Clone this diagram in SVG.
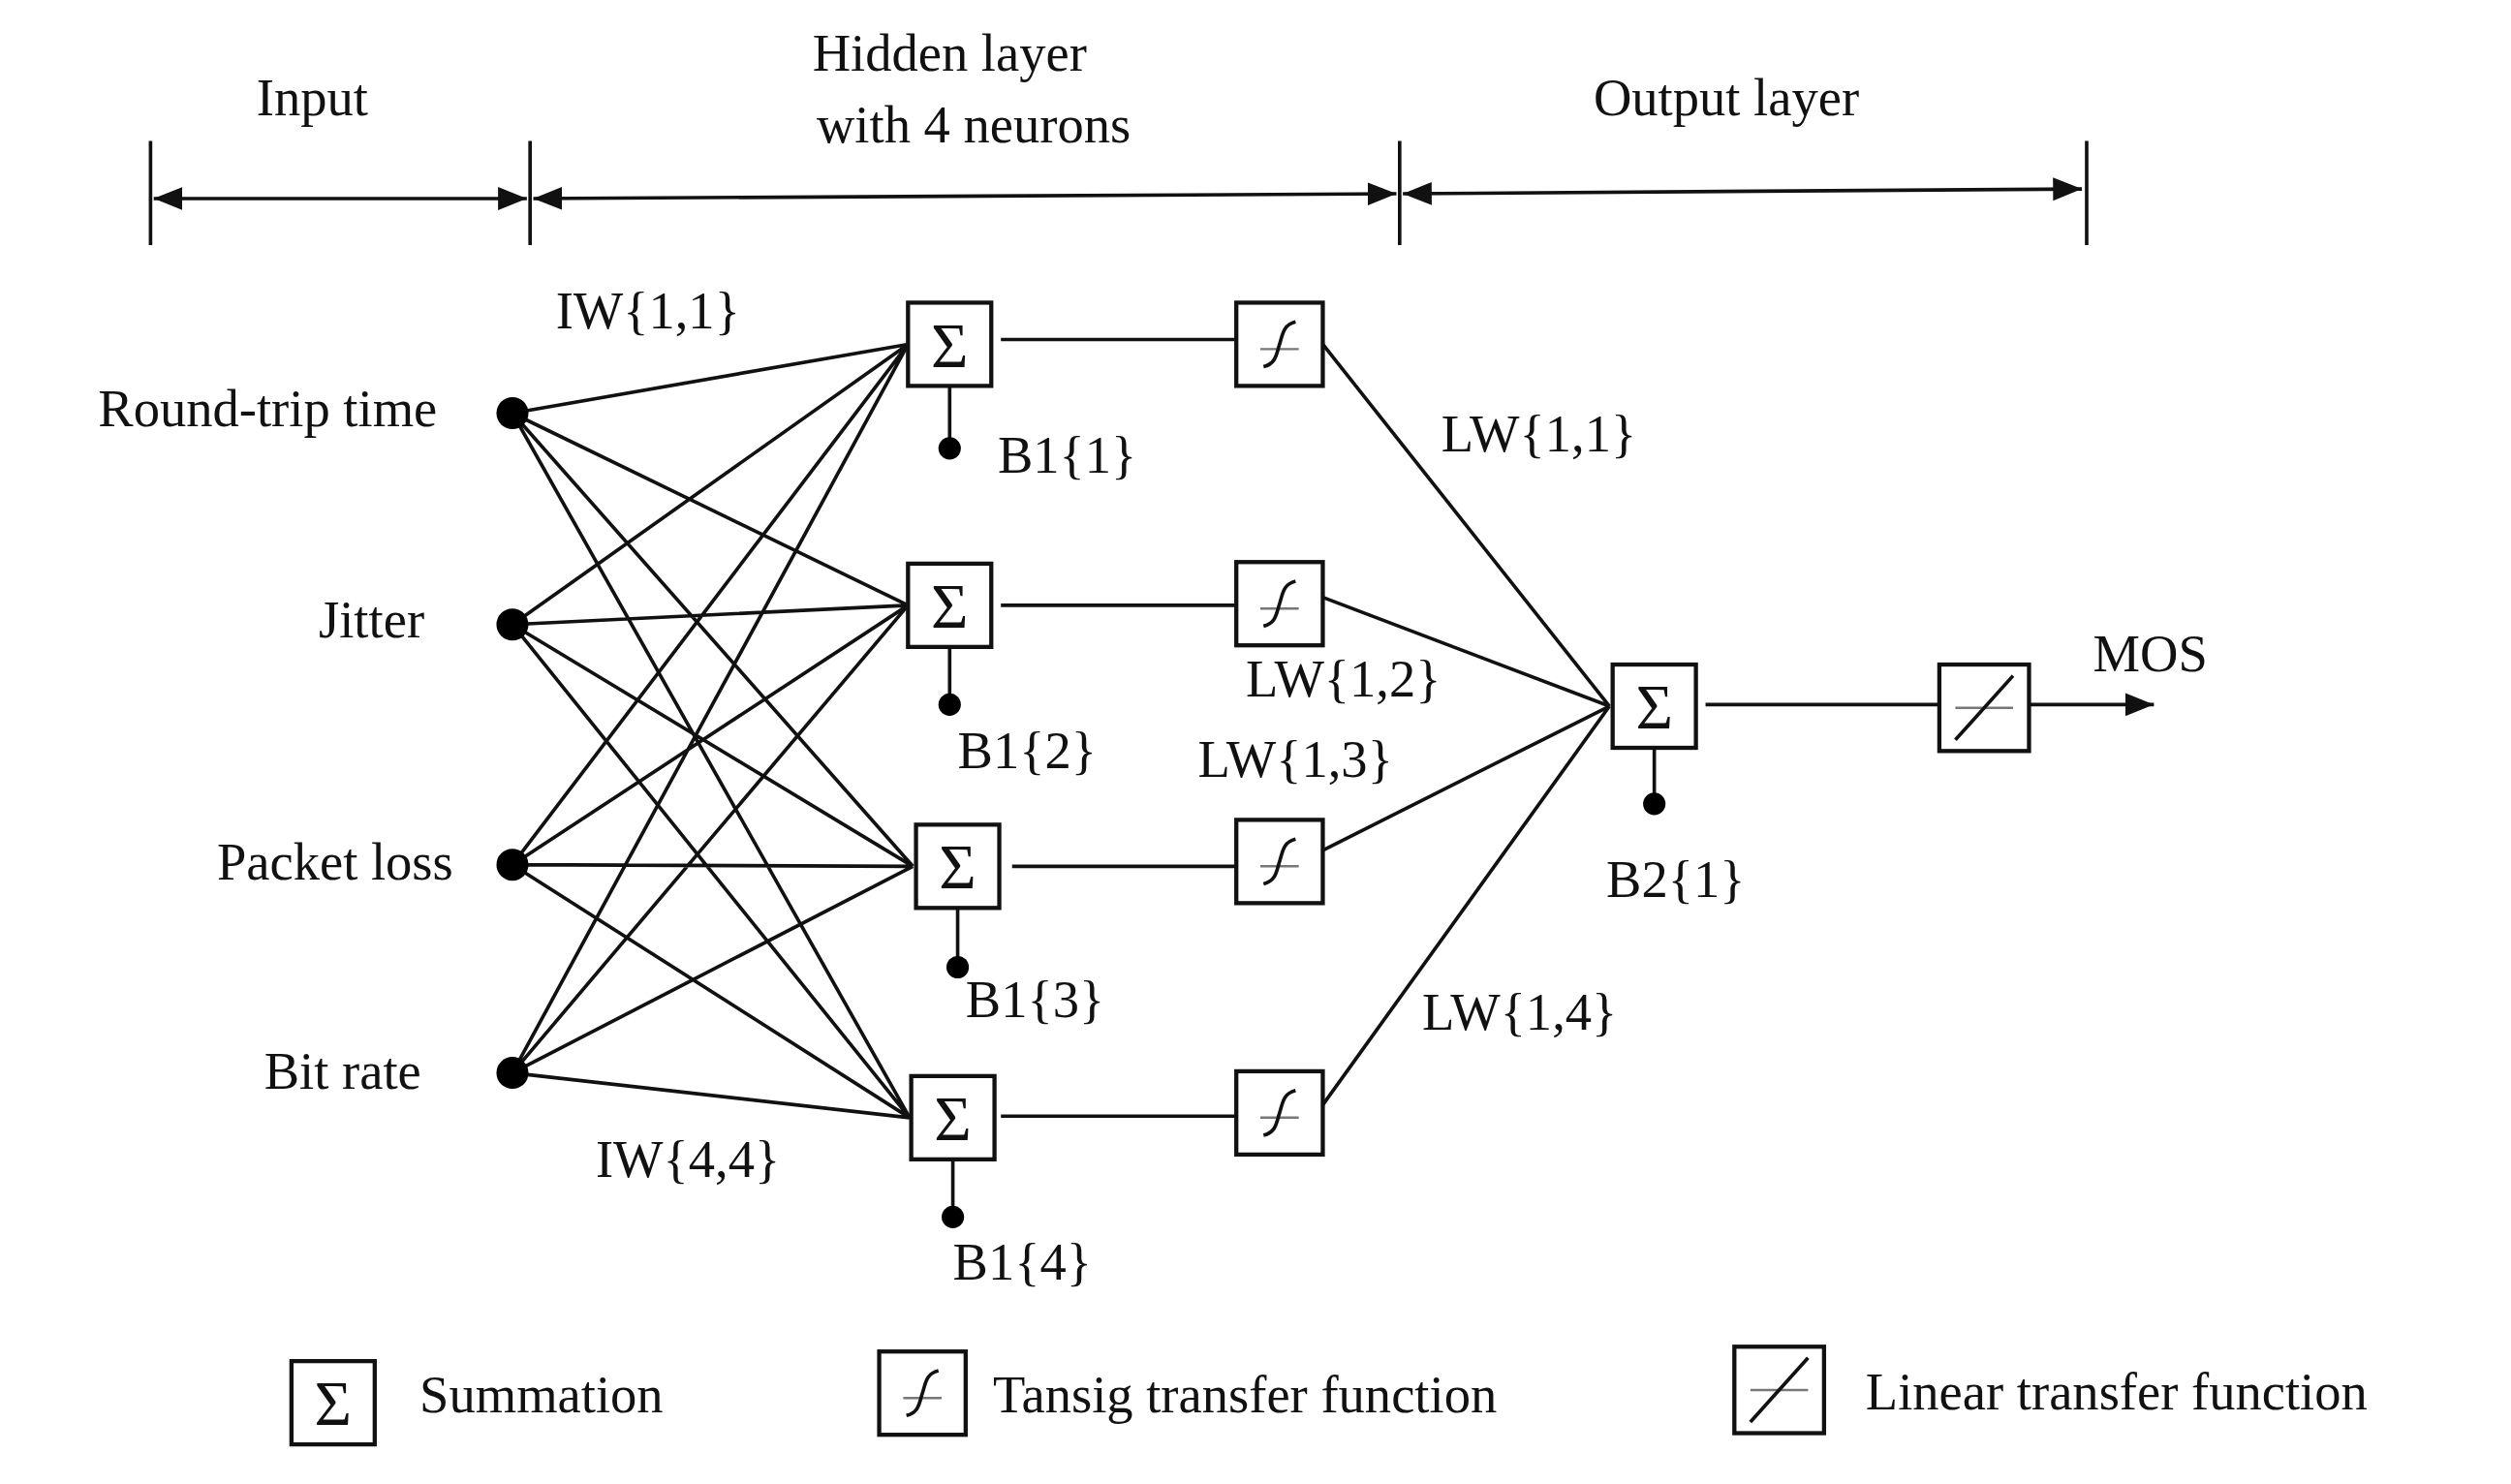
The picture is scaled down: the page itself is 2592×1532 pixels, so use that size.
<svg xmlns="http://www.w3.org/2000/svg" width="2592" height="1532" viewBox="0 0 2592 1532">
<style>
text{font-family:"Liberation Serif","Times New Roman",serif;font-size:33px;fill:#111}
.ln{stroke:#111;stroke-width:2.2;fill:none}
.bx{stroke:#111;stroke-width:2.6;fill:#fff}
.sg{font-size:40px;text-anchor:middle}
.r{text-anchor:end}
</style>
<defs>
<marker id="ah" viewBox="0 0 10 10" refX="10" refY="5" markerWidth="8" markerHeight="8" markerUnits="userSpaceOnUse" orient="auto"><path d="M0,0L10,5L0,10z" fill="#111"/></marker>
<marker id="ah2" viewBox="0 0 10 10" refX="10" refY="5" markerWidth="18" markerHeight="18" markerUnits="userSpaceOnUse" orient="auto-start-reverse"><path d="M0,1L10,5L0,9z" fill="#111"/></marker>
<g id="tan"><rect class="bx" x="-27" y="-26" width="54" height="52"/><path d="M-12,3H12" stroke="#777" stroke-width="1.5"/><path class="ln" d="M-10,14C-2,12 -2,6 0,0C2,-6 2,-12 10,-14" stroke-width="2.6"/></g>
<g id="sum"><rect class="bx" x="-26" y="-26" width="52" height="52"/><text class="sg" x="0" y="14">Σ</text></g>
<g id="lin"><rect class="bx" x="-28" y="-27" width="56" height="54"/><path d="M-18,0H18" stroke="#777" stroke-width="1.5"/><path class="ln" d="M-18,20L18,-20" stroke-width="2.6"/></g>
</defs>
<g transform="scale(1.6531)">
<g id="header">
<text x="195" y="72" text-anchor="middle">Input</text>
<text x="593" y="44" text-anchor="middle">Hidden layer</text>
<text x="608" y="89" text-anchor="middle">with 4 neurons</text>
<text x="1078" y="72" text-anchor="middle">Output layer</text>
<path class="ln" d="M94,88V153M331,88V153M874,88V153M1303,88V153"/>
<path class="ln" d="M96,124L329,124" marker-start="url(#ah2)" marker-end="url(#ah2)"/>
<path class="ln" d="M333,124L872,121" marker-start="url(#ah2)" marker-end="url(#ah2)"/>
<path class="ln" d="M876,121L1300,118" marker-start="url(#ah2)" marker-end="url(#ah2)"/>
</g>
<g id="connectors">
<path class="ln" d="M320,258L567,215M320,258L567,378M320,258L570,541M320,258L568,698
M320,390L567,215M320,390L567,378M320,390L570,541M320,390L568,698
M320,540L567,215M320,540L567,378M320,540L570,541M320,540L568,698
M320,670L567,215M320,670L567,378M320,670L570,541M320,670L568,698"/>
<path class="ln" d="M593,241V280M593,404V440M598,567V604M595,724V760M1033,467V502"/>
<path class="ln" d="M625,212H772M625,378H772M632,541H772M625,697H772M1065,440H1210M1267,440H1345" marker-end="url(#ah2)"/>
<path class="ln" d="M826,215L1005,441M826,373L1005,441M826,531L1005,441M826,690L1005,441"/>
</g>
<g id="input-nodes">
<circle cx="320" cy="258" r="10"/><text class="r" x="273" y="266">Round-trip time</text>
<circle cx="320" cy="390" r="10"/><text class="r" x="265" y="398">Jitter</text>
<circle cx="320" cy="540" r="10"/><text class="r" x="283" y="549">Packet loss</text>
<circle cx="320" cy="670" r="10"/><text class="r" x="263" y="680">Bit rate</text>
<text x="347" y="205">IW{1,1}</text>
<text x="372" y="735">IW{4,4}</text>
</g>
<g id="hidden-sum">
<use href="#sum" x="593" y="215"/><circle cx="593" cy="280" r="7"/><text x="623" y="295">B1{1}</text>
<use href="#sum" x="593" y="378"/><circle cx="593" cy="440" r="7"/><text x="598" y="480">B1{2}</text>
<use href="#sum" x="598" y="541"/><circle cx="598" cy="604" r="7"/><text x="603" y="635">B1{3}</text>
<use href="#sum" x="595" y="698"/><circle cx="595" cy="760" r="7"/><text x="595" y="799">B1{4}</text>
</g>
<g id="hidden-tansig">
<use href="#tan" x="799" y="215"/>
<use href="#tan" x="799" y="377"/>
<use href="#tan" x="799" y="538"/>
<use href="#tan" x="799" y="695"/>
</g>
<g id="output">
<text x="900" y="282">LW{1,1}</text>
<text x="778" y="435">LW{1,2}</text>
<text x="748" y="485">LW{1,3}</text>
<text x="888" y="643">LW{1,4}</text>
<use href="#sum" x="1033" y="441"/><circle cx="1033" cy="502" r="7"/><text x="1003" y="560">B2{1}</text>
<use href="#lin" x="1239" y="442"/>
<text x="1307" y="419">MOS</text>
</g>
<g id="legend">
<use href="#sum" x="208" y="876"/><text x="262" y="882">Summation</text>
<use href="#tan" x="576" y="870"/><text x="620" y="882">Tansig transfer function</text>
<use href="#lin" x="1111" y="868"/><text x="1165" y="880">Linear transfer function</text>
</g>
</g>
</svg>
